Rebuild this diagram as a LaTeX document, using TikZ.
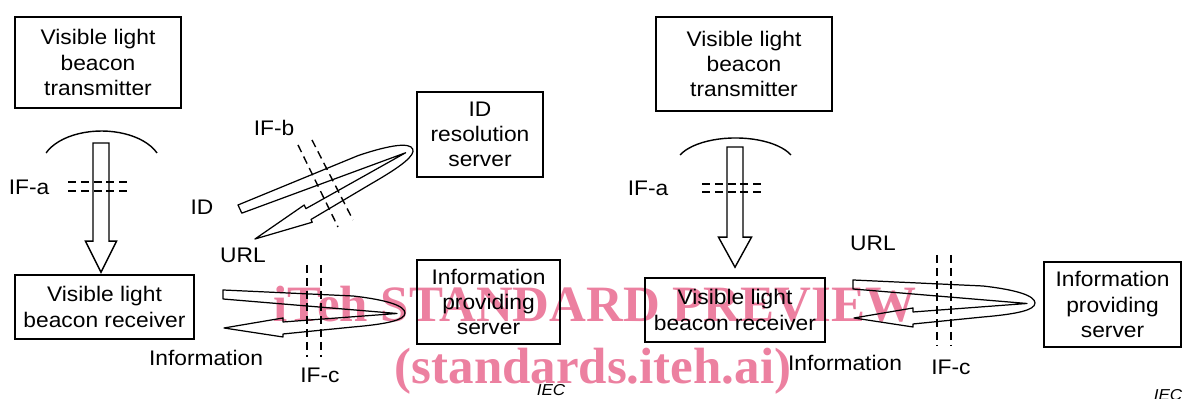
\documentclass[tikz,border=0pt]{standalone}
\usepackage{fontspec}
\setmainfont{Liberation Sans}[FakeStretch=1.08]
\newfontfamily\wmfont{Liberation Serif}
\usetikzlibrary{calc}
\definecolor{wmpink}{RGB}{236,128,160}
\tikzset{
  box/.style={draw, line width=0.9pt, align=center, inner sep=0pt},
  fat/.style={draw, line width=0.8pt, line join=miter},
  band/.style={draw, line width=0.7pt, line join=round},
  ifline/.style={line width=0.8pt, dash pattern=on 4.5pt off 2.8pt},
  iec/.style={font=\fontsize{9}{10}\selectfont\itshape, inner sep=0pt},
  wm/.style={font=\wmfont\bfseries\fontsize{29}{34}\selectfont, text=wmpink, inner sep=0pt}
}
\newcommand{\fatloop}[2]{%
  \draw[band, shift={#1}, rotate=#2] (0,0) -- (2.6,-0.12)
    .. controls (3.3,-0.2) and (3.64,-0.32) .. (3.64,-0.46)
    .. controls (3.64,-0.6) and (3.3,-0.68) .. (2.6,-0.74)
    -- (1.2,-0.88) -- (1.2,-0.94) -- (0.02,-0.76) -- (1.2,-0.56)
    -- (1.2,-0.64) -- (3.48,-0.47) -- (0,-0.18) -- cycle;}

\begin{document}
\begin{tikzpicture}[font=\fontsize{12}{14.3}\selectfont]
      \useasboundingbox (0,0) rectangle (23.66,7.98);
      % watermark
      \node[wm, anchor=base] (WM1) at (11.9, 1.54) {iTeh STANDARD PREVIEW};
      \node[wm, anchor=base] (WM2) at (11.86, 0.30) {(standards.iteh.ai)};
      % boxes
      \node[box, minimum width=3.32cm, minimum height=1.82cm] (TL) at (1.96, 6.73) {Visible light\\beacon\\transmitter};
      \node[box, minimum width=3.58cm, minimum height=1.28cm] (RL) at (2.09, 1.84) {Visible light\\beacon receiver};
      \node[box, minimum width=2.52cm, minimum height=1.70cm] (IDS) at (9.60, 5.29) {ID\\resolution\\server};
      \node[box, minimum width=2.86cm, minimum height=1.68cm] (IPL) at (9.77, 1.94) {Information\\providing\\server};
      \node[box, minimum width=3.52cm, minimum height=1.88cm] (TR) at (14.88, 6.70) {Visible light\\beacon\\transmitter};
      \node[box, minimum width=3.60cm, minimum height=1.28cm] (RR) at (14.70, 1.78) {Visible light\\beacon receiver};
      \node[box, minimum width=2.74cm, minimum height=1.70cm] (IPR) at (22.25, 1.89) {Information\\providing\\server};
      % labels
      \node (IFaL) at (0.58, 4.24) {IF-a};
      \node (IFaR) at (12.96, 4.22) {IF-a};
      \node (ID) at (4.04, 3.84) {ID};
      \node (URLL) at (4.86, 2.88) {URL};
      \node (IFb) at (5.48, 5.42) {IF-b};
      \node (InfL) at (4.12, 0.82) {Information};
      \node (IFcL) at (6.40, 0.48) {IF-c};
      \node (URLR) at (17.46, 3.12) {URL};
      \node (InfR) at (16.90, 0.72) {Information};
      \node (IFcR) at (19.02, 0.64) {IF-c};
      \node[iec] (IECL) at (11.02, 0.18) {IEC};
      \node[iec] (IECR) at (23.36, 0.08) {IEC};
      % light beams
      \coordinate (AL) at (2.02, 5.12);
      \coordinate (AR) at (14.70, 5.04);
      \draw[line width=0.8pt] (3.14, 4.92) arc[start angle=22.4, end angle=157.6, x radius=1.2, y radius=0.71];
      \draw[line width=0.8pt] (15.82, 4.88) arc[start angle=22.4, end angle=157.6, x radius=1.2, y radius=0.55];
      \draw[fat] ($(AL)+(-0.16,0)$) -- ($(AL)+(0.16,0)$) -- ($(AL|-RL.north)+(0.16,0.66)$)
        -- ($(AL|-RL.north)+(0.31,0.66)$) -- ($(AL|-RL.north)+(0,0.04)$)
        -- ($(AL|-RL.north)+(-0.31,0.66)$) -- ($(AL|-RL.north)+(-0.16,0.66)$) -- cycle;
      \draw[fat] ($(AR)+(-0.16,0)$) -- ($(AR)+(0.16,0)$) -- ($(AR|-RR.north)+(0.16,0.80)$)
        -- ($(AR|-RR.north)+(0.33,0.80)$) -- ($(AR|-RR.north)+(0,0.20)$)
        -- ($(AR|-RR.north)+(-0.33,0.80)$) -- ($(AR|-RR.north)+(-0.16,0.80)$) -- cycle;
      % exchanges
      \coordinate (LI) at (4.76, 3.88);
      \coordinate (LL) at (4.46, 2.18);
      \coordinate (LR) at (17.06, 2.38);
      \fatloop{(LI)}{25}
      \fatloop{(LL)}{0}
      \fatloop{(LR)}{0}
      % interfaces
      \draw[ifline] (1.36, 4.34) -- (2.62, 4.34);
      \draw[ifline] (1.36, 4.16) -- (2.62, 4.16);
      \draw[ifline] (14.04, 4.30) -- (15.30, 4.30);
      \draw[ifline] (14.04, 4.14) -- (15.30, 4.14);
      \draw[ifline] (5.96, 5.08) -- (6.76, 3.44);
      \draw[ifline] (6.24, 5.18) -- (7.06, 3.58);
      \draw[ifline] (6.14, 2.68) -- (6.14, 0.84);
      \draw[ifline] (6.42, 2.68) -- (6.42, 0.84);
      \draw[ifline] (18.74, 2.88) -- (18.74, 1.08);
      \draw[ifline] (19.02, 2.88) -- (19.02, 1.08);
    \end{tikzpicture}
\end{document}
